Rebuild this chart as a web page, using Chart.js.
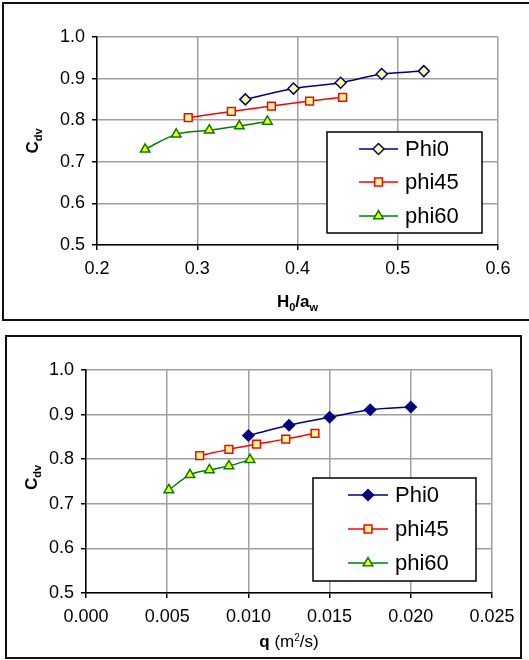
<!DOCTYPE html>
<html><head><meta charset="utf-8">
<script src="https://cdn.jsdelivr.net/npm/chart.js@4"></script>
<style>
html,body{margin:0;padding:0;background:#fff;width:529px;height:660px;overflow:hidden;}
.box{position:absolute;border:2px solid #111;box-sizing:border-box;}
canvas{position:absolute;}
</style></head><body>
<div class="box" style="left:2px;top:2px;width:540px;height:319px"></div>
<div class="box" style="left:5px;top:335px;width:517px;height:324px"></div>
<canvas id="c1" style="left:0;top:0" width="529" height="327"></canvas>
<canvas id="c2" style="left:0;top:327px" width="529" height="333"></canvas>
<script>
// ---- data ----
const seriesNames = ['Phi0', 'phi45', 'phi60'];
// top chart: Cdv vs H0/aw
const h0aw_phi0  = [0.348, 0.396, 0.443, 0.484, 0.526];
const cdv1_phi0  = [0.850, 0.876, 0.890, 0.911, 0.918];
const h0aw_phi45 = [0.291, 0.334, 0.374, 0.412, 0.445];
const cdv1_phi45 = [0.806, 0.821, 0.834, 0.846, 0.855];
const h0aw_phi60 = [0.248, 0.279, 0.312, 0.342, 0.370];
const cdv1_phi60 = [0.730, 0.766, 0.776, 0.786, 0.797];
// bottom chart: Cdv vs q
const q_phi0  = [0.0100, 0.0125, 0.0150, 0.0175, 0.0200];
const cdv2_phi0  = [0.853, 0.876, 0.894, 0.911, 0.917];
const q_phi45 = [0.0070, 0.0088, 0.0105, 0.0123, 0.0141];
const cdv2_phi45 = [0.808, 0.822, 0.834, 0.845, 0.858];
const q_phi60 = [0.0051, 0.0064, 0.0076, 0.0088, 0.0101];
const cdv2_phi60 = [0.731, 0.765, 0.776, 0.785, 0.799];
// tick labels
const yTicks = [0.5, 0.6, 0.7, 0.8, 0.9, 1.0];
const xTicksTop = [0.2, 0.3, 0.4, 0.5, 0.6];
const xTicksBottom = [0.000, 0.005, 0.010, 0.015, 0.020, 0.025];

const FONT = 'Liberation Sans, Arial, sans-serif';

function pts(xs, ys) { return xs.map((x, i) => ({x: x, y: ys[i]})); }

function styles(filledDiamond) {
  return [
    {color: '#000080', fill: filledDiamond ? '#000080' : '#ffff99', shape: 'rectRot', r: 5.5},
    {color: '#ff0000', fill: '#ffff99', shape: 'rect', r: 5.5},
    {color: '#008000', fill: '#ffff00', shape: 'triangle', r: 5.5}
  ];
}

function makeDatasets(sets, filledDiamond) {
  const st = styles(filledDiamond);
  return sets.map((s, i) => ({
    label: seriesNames[i],
    data: pts(s[0], s[1]),
    borderColor: st[i].color,
    backgroundColor: st[i].fill,
    pointBackgroundColor: st[i].fill,
    pointBorderColor: st[i].color,
    pointBorderWidth: 1.5,
    pointStyle: st[i].shape,
    pointRadius: st[i].r,
    borderWidth: 1.5,
    tension: 0.35,
    showLine: true,
    fill: false
  }));
}

function axis(ticksArr, decimals, fit, isX) {
  return {
    type: 'linear',
    min: ticksArr[0], max: ticksArr[ticksArr.length - 1],
    afterBuildTicks: s => { s.ticks = ticksArr.map(v => ({value: v})); },
    afterFit: s => { if (isX) s.height = fit; else s.width = fit; },
    ticks: {
      callback: v => Number(v).toFixed(decimals),
      color: '#000', font: {family: FONT, size: 18},
      padding: isX ? 8 : 7, maxRotation: 0, autoSkip: false
    },
    grid: {color: '#a0a0a0', lineWidth: 1.5, tickLength: 5, tickColor: '#000', drawTicks: true},
    border: {color: '#000', width: 1.5}
  };
}

function drawMarker(ctx, shape, x, y, r, fill, stroke) {
  ctx.save();
  ctx.beginPath();
  if (shape === 'rectRot') {
    ctx.moveTo(x, y - r); ctx.lineTo(x + r, y); ctx.lineTo(x, y + r); ctx.lineTo(x - r, y); ctx.closePath();
  } else if (shape === 'rect') {
    const s = r * Math.SQRT1_2;
    ctx.rect(x - s, y - s, 2 * s, 2 * s);
  } else {
    const w = r * Math.sqrt(3);
    ctx.moveTo(x, y - r); ctx.lineTo(x + w / 2, y + r / 2); ctx.lineTo(x - w / 2, y + r / 2); ctx.closePath();
  }
  ctx.fillStyle = fill; ctx.fill();
  ctx.lineWidth = 1.5; ctx.strokeStyle = stroke; ctx.stroke();
  ctx.restore();
}

// draw a sequence of [text, bold, size, dy] pieces
function runWidth(ctx, parts) {
  let w = 0;
  parts.forEach(p => { ctx.font = (p[1] ? 'bold ' : '') + p[2] + 'px ' + FONT; w += ctx.measureText(p[0]).width; });
  return w;
}
function drawRun(ctx, parts, x, y) {
  parts.forEach(p => {
    ctx.font = (p[1] ? 'bold ' : '') + p[2] + 'px ' + FONT;
    ctx.fillText(p[0], x, y + p[3]);
    x += ctx.measureText(p[0]).width;
  });
}

function decorPlugin(cfg) {
  return {
    id: 'decor',
    afterDraw(chart) {
      const ctx = chart.ctx, a = chart.chartArea;
      ctx.save();
      ctx.fillStyle = '#000';
      ctx.textBaseline = 'alphabetic';
      // x title
      const xw = runWidth(ctx, cfg.xTitle);
      drawRun(ctx, cfg.xTitle, (a.left + a.right) / 2 - xw / 2, a.bottom + cfg.xTitleDy);
      // y title rotated
      const yt = [['C', true, 17, 0], ['dv', true, 11, 4]];
      const yw = runWidth(ctx, yt);
      ctx.save();
      ctx.translate(cfg.yTitleX, (a.top + a.bottom) / 2 + cfg.yTitleDy);
      ctx.rotate(-Math.PI / 2);
      drawRun(ctx, yt, -yw / 2, 0);
      ctx.restore();
      // legend
      const L = cfg.legend;
      ctx.fillStyle = '#fff';
      ctx.fillRect(L.x, L.y, L.w, L.h);
      ctx.lineWidth = 1.5; ctx.strokeStyle = '#000';
      ctx.strokeRect(L.x, L.y, L.w, L.h);
      const st = styles(cfg.filledDiamond);
      chart.data.datasets.forEach((ds, i) => {
        const cy = L.y + L.rows[i];
        ctx.beginPath();
        ctx.moveTo(L.x + L.lineX0, cy); ctx.lineTo(L.x + L.lineX1, cy);
        ctx.lineWidth = 1.5; ctx.strokeStyle = st[i].color; ctx.stroke();
        drawMarker(ctx, st[i].shape, L.x + (L.lineX0 + L.lineX1) / 2, cy, st[i].r, st[i].fill, st[i].color);
        ctx.fillStyle = '#000';
        ctx.font = '22px ' + FONT;
        ctx.textBaseline = 'middle';
        ctx.fillText(ds.label, L.x + L.textX, cy + 1);
      });
      ctx.restore();
    }
  };
}

// ---- top chart ----
new Chart(document.getElementById('c1'), {
  type: 'scatter',
  data: {datasets: makeDatasets([[h0aw_phi0, cdv1_phi0], [h0aw_phi45, cdv1_phi45], [h0aw_phi60, cdv1_phi60]], false)},
  options: {
    responsive: false, animation: false,
    layout: {padding: {left: 0, right: 31, top: 37, bottom: 0}},
    plugins: {legend: {display: false}, tooltip: {enabled: false}},
    scales: {x: axis(xTicksTop, 1, 327 - 245, true), y: axis(yTicks, 1, 97, false)}
  },
  plugins: [decorPlugin({
    xTitle: [['H', true, 17, 0], ['0', true, 11, 4], ['/a', true, 17, 0], ['w', true, 11, 4]],
    xTitleDy: 62, yTitleX: 38, yTitleDy: 0, filledDiamond: false,
    legend: {x: 327, y: 132, w: 155, h: 101, rows: [17, 50, 84], lineX0: 32, lineX1: 71, textX: 78}
  })]
});

// ---- bottom chart ----
new Chart(document.getElementById('c2'), {
  type: 'scatter',
  data: {datasets: makeDatasets([[q_phi0, cdv2_phi0], [q_phi45, cdv2_phi45], [q_phi60, cdv2_phi60]], true)},
  options: {
    responsive: false, animation: false,
    layout: {padding: {left: 0, right: 37, top: 43, bottom: 0}},
    plugins: {legend: {display: false}, tooltip: {enabled: false}},
    scales: {x: axis(xTicksBottom, 3, 333 - 266, true), y: axis(yTicks, 1, 86, false)}
  },
  plugins: [decorPlugin({
    xTitle: [['q', true, 17, 0], [' (m', false, 17, 0], ['2', false, 10, -6], ['/s)', false, 17, 0]],
    xTitleDy: 54, yTitleX: 37, yTitleDy: -4, filledDiamond: true,
    legend: {x: 313, y: 151, w: 163, h: 103, rows: [17, 51, 85], lineX0: 35, lineX1: 75, textX: 82}
  })]
});
</script>
</body></html>
